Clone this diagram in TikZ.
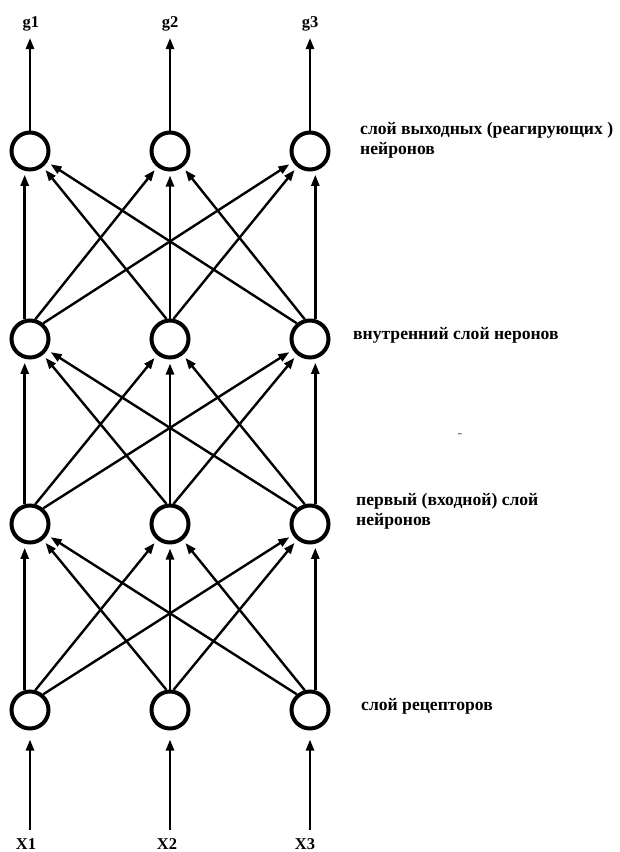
\documentclass[tikz,border=0pt]{standalone}
\usepackage{fontspec}
\setmainfont{Liberation Serif}
\usetikzlibrary{arrows.meta}
\begin{document}
\begin{tikzpicture}[x=1pt,y=-1pt,
  neuron/.style={circle,draw,line width=4pt,minimum size=37pt,inner sep=0pt},
  link/.style={line width=2.4pt,-{Triangle[length=11pt,width=8pt]},shorten >=4pt},
  outlink/.style={line width=2.4pt,-{Triangle[length=11pt,width=8pt]}},
  lbl/.style={font=\fontsize{17.6}{20}\selectfont\bfseries,anchor=base west,align=left,inner sep=0pt},
  sig/.style={font=\fontsize{16.5}{18}\selectfont\bfseries,anchor=base,inner sep=0pt}]
\fill[white] (0,0) rectangle (619,852);
\useasboundingbox (0,0) rectangle (619,852);

% four layers of neurons: receptors (r), first layer (a), inner layer (b), output layer (c)
\foreach \n/\x in {1/30,2/170,3/310} {
  \node[neuron] (r\n) at (\x,710) {};
  \node[neuron] (a\n) at (\x,524) {};
  \node[neuron] (b\n) at (\x,339) {};
  \node[neuron] (c\n) at (\x,151) {};
}

% full connections between consecutive layers
\foreach \lo/\hi in {r/a,a/b,b/c} {
  \foreach \i/\sa/\ta in {1/105/255,2/90/270,3/75/285}
    \draw[link] (\lo\i.\sa) -- (\hi\i.\ta);
  \foreach \i/\j/\sa in {1/2/75,1/3/50,2/1/100,2/3/80,3/1/130,3/2/105}
    \draw[link] (\lo\i.\sa) -- (\hi\j);
}

% outputs
\foreach \n/\x in {1/30,2/170,3/310} {
  \coordinate (t\n) at (\x,38);
  \draw[outlink] (c\n.north) -- (t\n);
}
\node[sig] (g1) at (31,27) {g1};
\node[sig] (g2) at (170,27) {g2};
\node[sig] (g3) at (310,27) {g3};

% inputs
\foreach \n/\x in {1/30,2/170,3/310} {
  \coordinate (s\n) at (\x,830);
  \draw[link,shorten >=9pt] (s\n) -- (r\n.south);
}
\node[sig] (x1) at (26,849) {X1};
\node[sig] (x2) at (167,849) {X2};
\node[sig] (x3) at (305,849) {X3};

% layer captions
\node[lbl] (l1) at (360,154) {слой выходных (реагирующих )\\нейронов};
\node[lbl] (l2) at (353,339) {внутренний слой неронов};
\node[lbl] (l3) at (356,525) {первый (входной) слой\\нейронов};
\node[lbl] (l4) at (361,710) {слой рецепторов};
\node[font=\fontsize{14}{14}\selectfont\bfseries,text=black!55,inner sep=0pt] (dash) at (460,436) {-};
\end{tikzpicture}
\end{document}
